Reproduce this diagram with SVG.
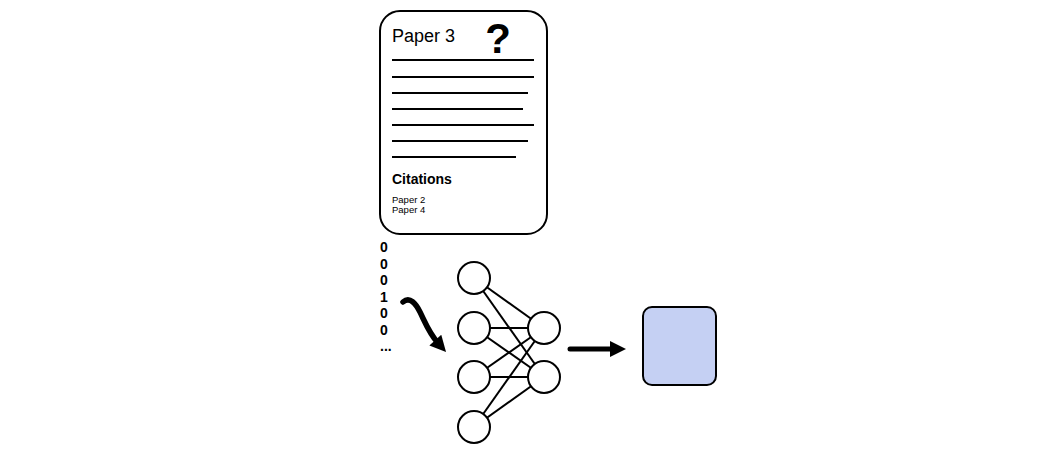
<svg xmlns="http://www.w3.org/2000/svg" width="1050" height="453" viewBox="0 0 1050 453">
<style>
.ln{stroke:#000;stroke-width:2;fill:none}
.nd{fill:#fff;stroke:#000;stroke-width:2}
.t{font-family:"Liberation Sans",Arial,sans-serif;fill:#000}
.b{font-weight:bold}
</style>
<defs>
<marker id="ah" viewBox="0 0 10 10" refX="2.5" refY="5" markerWidth="18" markerHeight="16" orient="auto" markerUnits="userSpaceOnUse">
<path d="M0,0 L10,5 L0,10 Z" fill="#000"/>
</marker>
</defs>
<rect width="1050" height="453" fill="#fff"/>
<g id="paper">
<rect x="380" y="11" width="167" height="223" rx="20" ry="20" fill="#fff" stroke="#000" stroke-width="2"/>
<text class="t" x="392" y="42" font-size="18">Paper 3</text>
<text class="t b" x="498" y="53" font-size="42" text-anchor="middle">?</text>
<line class="ln" x1="392" y1="60" x2="534" y2="60"/>
<line class="ln" x1="392" y1="77" x2="534" y2="77"/>
<line class="ln" x1="392" y1="93" x2="528" y2="93"/>
<line class="ln" x1="392" y1="109" x2="523" y2="109"/>
<line class="ln" x1="392" y1="125" x2="534" y2="125"/>
<line class="ln" x1="392" y1="141" x2="528" y2="141"/>
<line class="ln" x1="392" y1="157" x2="516" y2="157"/>
<text class="t b" x="392" y="184" font-size="14">Citations</text>
<text class="t" x="392" y="203" font-size="9.5">Paper 2</text>
<text class="t" x="392" y="213" font-size="9.5">Paper 4</text>
</g>
<g id="vector">
<text class="t b" x="380" y="252" font-size="14">0</text>
<text class="t b" x="380" y="268.5" font-size="14">0</text>
<text class="t b" x="380" y="285" font-size="14">0</text>
<text class="t b" x="380" y="301.5" font-size="14">1</text>
<text class="t b" x="380" y="318" font-size="14">0</text>
<text class="t b" x="380" y="334.5" font-size="14">0</text>
<text class="t b" x="380" y="351" font-size="14">...</text>
</g>
<g id="connectors">
<path d="M403,302 C410,296 416,304 420,312 C425,322 429,333 438,343" fill="none" stroke="#000" stroke-width="5.5" stroke-linecap="round" marker-end="url(#ah)"/>
<line x1="570" y1="349" x2="614" y2="349" stroke="#000" stroke-width="5" stroke-linecap="round" marker-end="url(#ah)"/>
<g class="edges">
<line class="ln" x1="474" y1="278" x2="544" y2="328"/>
<line class="ln" x1="474" y1="278" x2="544" y2="377"/>
<line class="ln" x1="474" y1="328" x2="544" y2="328"/>
<line class="ln" x1="474" y1="328" x2="544" y2="377"/>
<line class="ln" x1="474" y1="377" x2="544" y2="328"/>
<line class="ln" x1="474" y1="377" x2="544" y2="377"/>
<line class="ln" x1="474" y1="427" x2="544" y2="328"/>
<line class="ln" x1="474" y1="427" x2="544" y2="377"/>
</g>
</g>
<g id="in1"><circle class="nd" cx="474" cy="278" r="16"/></g>
<g id="in2"><circle class="nd" cx="474" cy="328" r="16"/></g>
<g id="in3"><circle class="nd" cx="474" cy="377" r="16"/></g>
<g id="in4"><circle class="nd" cx="474" cy="427" r="16"/></g>
<g id="out1"><circle class="nd" cx="544" cy="328" r="16"/></g>
<g id="out2"><circle class="nd" cx="544" cy="377" r="16"/></g>
<g id="output">
<rect x="643" y="307" width="73" height="78" rx="9" ry="9" fill="#c5d0f3" stroke="#000" stroke-width="2"/>
</g>
</svg>
